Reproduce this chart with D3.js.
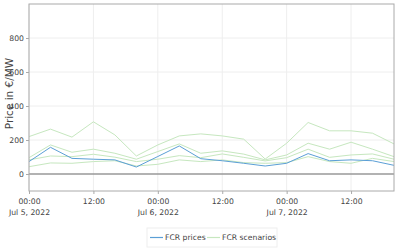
<!DOCTYPE html>
<html lang="en">
<head>
<meta charset="UTF-8">
<title>FCR prices</title>
<script src="https://d3js.org/d3.v7.min.js"></script>
<style>
  body { margin: 0; background: #fff; }
  svg text { font-family: "DejaVu Sans", Verdana, sans-serif; fill: #444; }
</style>
</head>
<body>
<div id="chart"></div>
<script>
// timestamps (every 4 hours)
var times = [
  "2022-07-05 00:00", "2022-07-05 04:00", "2022-07-05 08:00", "2022-07-05 12:00",
  "2022-07-05 16:00", "2022-07-05 20:00", "2022-07-06 00:00", "2022-07-06 04:00",
  "2022-07-06 08:00", "2022-07-06 12:00", "2022-07-06 16:00", "2022-07-06 20:00",
  "2022-07-07 00:00", "2022-07-07 04:00", "2022-07-07 08:00", "2022-07-07 12:00",
  "2022-07-07 16:00", "2022-07-07 20:00"
];
var fcrPrices = [73, 157, 92, 87, 83, 41, 103, 165, 90, 78, 63, 47, 63, 120, 78, 83, 78, 51];
var scenario1 = [220, 264, 217, 307, 230, 106, 171, 224, 236, 224, 205, 88, 181, 303, 254, 254, 240, 177];
var scenario2 = [96, 171, 128, 146, 122, 87, 132, 177, 122, 136, 117, 83, 112, 181, 146, 187, 146, 102];
var scenario3 = [83, 106, 102, 116, 99, 73, 87, 108, 96, 118, 98, 77, 96, 146, 98, 112, 118, 87];
var scenario4 = [43, 65, 63, 73, 78, 47, 57, 83, 73, 83, 67, 63, 67, 102, 73, 63, 92, 73];
var scenarios = [scenario1, scenario2, scenario3, scenario4];
var yTicks = [0, 200, 400, 600, 800];
var legendNames = ["FCR prices", "FCR scenarios"];

var W = 415, H = 249;
var margin = { top: 4, right: 21, bottom: 58, left: 29 };
var width = W - margin.left - margin.right,
    height = H - margin.top - margin.bottom;

var blue = "#5b9fd6", green = "#c6e7bf";
var fontSize = "7.7px";
var parse = d3.timeParse("%Y-%m-%d %H:%M");
var dates = times.map(parse);

var svg = d3.select("#chart").append("svg")
    .attr("width", W).attr("height", H);
var g = svg.append("g")
    .attr("transform", "translate(" + margin.left + "," + margin.top + ")");

var x = d3.scaleTime().domain(d3.extent(dates)).range([0, width]);
var y = d3.scaleLinear().domain([-100, 1000]).range([height, 0]);

// x ticks every 12 hours
var xTicks = d3.timeHour.every(12).range(dates[0], d3.timeMinute.offset(dates[dates.length - 1], 1));

// grid
g.append("g").selectAll("line").data(yTicks.filter(d => d !== 0)).enter().append("line")
    .attr("x1", 0).attr("x2", width)
    .attr("y1", d => y(d)).attr("y2", d => y(d))
    .attr("stroke", "#eeeeee").attr("stroke-width", 1);
g.append("g").selectAll("line").data(xTicks).enter().append("line")
    .attr("x1", d => x(d)).attr("x2", d => x(d))
    .attr("y1", 0).attr("y2", height)
    .attr("stroke", "#eeeeee").attr("stroke-width", 1);

// zero line
g.append("line")
    .attr("x1", 0).attr("x2", width)
    .attr("y1", y(0)).attr("y2", y(0))
    .attr("stroke", "#999").attr("stroke-width", 1.3);

// lines
var line = d3.line()
    .x((d, i) => x(dates[i]))
    .y(d => y(d));

scenarios.forEach(function(s) {
  g.append("path").datum(s)
      .attr("fill", "none")
      .attr("stroke", green)
      .attr("stroke-width", 1)
      .attr("d", line);
});
g.append("path").datum(fcrPrices)
    .attr("fill", "none")
    .attr("stroke", blue)
    .attr("stroke-width", 1)
    .attr("d", line);

// frame
g.append("rect")
    .attr("x", 0).attr("y", 0)
    .attr("width", width).attr("height", height)
    .attr("fill", "none")
    .attr("stroke", "#aaa").attr("stroke-width", 1);

// y axis
var yAxis = g.append("g")
    .call(d3.axisLeft(y).tickValues(yTicks).tickSize(3).tickPadding(2));
yAxis.attr("font-family", null);
yAxis.select(".domain").remove();
yAxis.selectAll(".tick line").attr("stroke", "#aaa");
yAxis.selectAll(".tick text").style("font-size", fontSize).attr("fill", "#444");

// x axis
var fmtTime = d3.timeFormat("%H:%M"), fmtDate = d3.timeFormat("%b %-d, %Y");
var xAxis = g.append("g")
    .attr("transform", "translate(0," + height + ")")
    .call(d3.axisBottom(x).tickValues(xTicks).tickSize(3).tickPadding(5).tickFormat(""));
xAxis.attr("font-family", null);
xAxis.select(".domain").remove();
xAxis.selectAll(".tick line").attr("stroke", "#aaa");
xAxis.selectAll(".tick").each(function(d) {
  var t = d3.select(this).select("text")
      .style("font-size", fontSize).attr("fill", "#444").text(null);
  t.append("tspan").attr("x", 0).attr("dy", "0.71em").text(fmtTime(d));
  if (d.getHours() === 0) {
    t.append("tspan").attr("x", 0).attr("dy", "1.35em").text(fmtDate(d));
  }
});

// y title
svg.append("text")
    .attr("transform", "translate(9," + (margin.top + height / 2 - 4) + ") rotate(-90)")
    .attr("text-anchor", "middle")
    .attr("dy", "0.35em")
    .style("font-size", "10.5px")
    .text("Price in €/MW");

// legend
var lg = svg.append("g").attr("transform", "translate(147,228)");
lg.append("rect")
    .attr("width", 130).attr("height", 19)
    .attr("fill", "#fff").attr("stroke", "#eeeeee");
var items = [{ name: legendNames[0], color: blue, x: 3 }, { name: legendNames[1], color: green, x: 60 }];
items.forEach(function(it) {
  lg.append("line")
      .attr("x1", it.x).attr("x2", it.x + 13)
      .attr("y1", 9.5).attr("y2", 9.5)
      .attr("stroke", it.color).attr("stroke-width", 1.2);
  lg.append("text")
      .attr("x", it.x + 15).attr("y", 9.5).attr("dy", "0.35em")
      .style("font-size", fontSize)
      .text(it.name);
});
</script>
</body>
</html>
